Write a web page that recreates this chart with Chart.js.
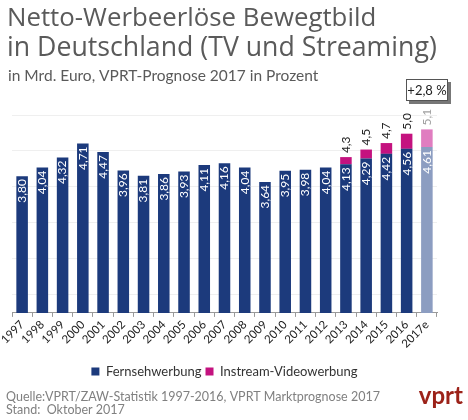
<!DOCTYPE html>
<html>
<head>
<meta charset="utf-8">
<script src="https://cdn.jsdelivr.net/npm/chart.js@4/dist/chart.umd.min.js"></script>
<style>
  html, body { margin: 0; padding: 0; background: #fff; }
  #wrap { width: 468px; height: 420px; position: relative; }
</style>
</head>
<body>
<div id="wrap"><canvas id="chart" width="468" height="420"></canvas></div>
<script>
// Daten (Mrd. Euro)
const years = ['1997', '1998', '1999', '2000', '2001', '2002', '2003', '2004', '2005', '2006',
  '2007', '2008', '2009', '2010', '2011', '2012', '2013', '2014', '2015', '2016', '2017e'];
const fernsehen = [3.80, 4.04, 4.32, 4.71, 4.47, 3.96, 3.81, 3.86, 3.93, 4.11,
  4.16, 4.04, 3.64, 3.95, 3.98, 4.04, 4.13, 4.29, 4.42, 4.56, 4.61];
const instream = [null, null, null, null, null, null, null, null, null, null,
  null, null, null, null, null, null, 0.20, 0.25, 0.30, 0.42, 0.49];
const gridValues = [0.5, 1.5, 2.5, 3.5, 4.5, 5.5];
const prognose = '+2,8 %';

const NAVY = '#1c3a7c';
const MAGENTA = '#c4127f';
const NAVY_E = '#8c9dc1';
const MAGENTA_E = '#e07dc0';
const FONT = 'Lato';
const TITLE_FONT = '"Open Sans"';

const lastIdx = years.length - 1;
const fmt = (v, d) => v.toFixed(d).replace('.', ',');

// Beschriftungen in den Balken und Summen darüber
const labelPlugin = {
  id: 'labels',
  afterDatasetsDraw(chart) {
    const ctx = chart.ctx;
    const metaTV = chart.getDatasetMeta(0);
    const metaIS = chart.getDatasetMeta(1);
    ctx.save();
    ctx.font = '12px ' + FONT;
    ctx.textBaseline = 'middle';
    metaTV.data.forEach((bar, i) => {
      ctx.save();
      ctx.translate(bar.x, bar.y);
      ctx.rotate(-Math.PI / 2);
      ctx.textAlign = 'right';
      ctx.fillStyle = '#fff';
      ctx.fillText(fmt(fernsehen[i], 2), -3, 0);
      ctx.restore();

      if (instream[i] != null) {
        const top = metaIS.data[i].y;
        ctx.save();
        ctx.translate(bar.x, top - 4);
        ctx.rotate(-Math.PI / 2);
        ctx.textAlign = 'left';
        ctx.fillStyle = i === lastIdx ? '#a0a0a0' : '#222';
        ctx.fillText(fmt(fernsehen[i] + instream[i], 1), 0, 0);
        ctx.restore();
      }
    });
    ctx.restore();
  }
};

// Titel, Prognose-Box, Quelle und Logo
const textPlugin = {
  id: 'texts',
  afterDraw(chart) {
    const ctx = chart.ctx;
    ctx.save();
    ctx.fillStyle = '#5a5a5a';
    ctx.textAlign = 'left';
    ctx.textBaseline = 'alphabetic';
    ctx.font = '25.8px ' + TITLE_FONT;
    ctx.fillText('Netto-Werbeerlöse Bewegtbild', 7, 26);
    ctx.font = '26.7px ' + TITLE_FONT;
    ctx.fillText('in Deutschland (TV und Streaming)', 7, 56);
    ctx.font = '15.5px ' + FONT;
    ctx.fillText('in Mrd. Euro, VPRT-Prognose 2017 in Prozent', 8, 81);

    // Prognose-Box
    ctx.fillStyle = '#777';
    ctx.fillRect(409, 82, 42, 22);
    ctx.fillStyle = '#fff';
    ctx.fillRect(406, 79, 42, 22);
    ctx.strokeStyle = '#555';
    ctx.lineWidth = 1;
    ctx.strokeRect(406.5, 79.5, 41, 21);
    ctx.fillStyle = '#222';
    ctx.font = '13px ' + FONT;
    ctx.textAlign = 'center';
    ctx.textBaseline = 'middle';
    ctx.fillText(prognose, 427, 90.5);

    // Quelle
    ctx.textAlign = 'left';
    ctx.textBaseline = 'alphabetic';
    ctx.fillStyle = '#808080';
    ctx.font = '12.5px ' + FONT;
    ctx.fillText('Quelle:VPRT/ZAW-Statistik 1997-2016, VPRT Marktprognose 2017', 6, 401);
    ctx.fillText('Stand:  Oktober 2017', 6, 414);

    // Logo
    ctx.fillStyle = '#9c2219';
    ctx.font = 'bold 24px ' + FONT;
    ctx.textAlign = 'right';
    ctx.fillText('vprt', 463, 404);
    ctx.restore();
  }
};

new Chart(document.getElementById('chart'), {
  type: 'bar',
  data: {
    labels: years,
    datasets: [{
      label: 'Fernsehwerbung',
      data: fernsehen,
      backgroundColor: years.map((y, i) => i === lastIdx ? NAVY_E : NAVY),
      barPercentage: 0.57,
      categoryPercentage: 1
    }, {
      label: 'Instream-Videowerbung',
      data: instream,
      backgroundColor: years.map((y, i) => i === lastIdx ? MAGENTA_E : MAGENTA),
      barPercentage: 0.57,
      categoryPercentage: 1
    }]
  },
  options: {
    responsive: false,
    animation: false,
    layout: { padding: { top: 115, left: 12, right: 31, bottom: 32 } },
    scales: {
      x: {
        stacked: true,
        grid: { display: true, drawOnChartArea: false, drawTicks: true, tickLength: 4, offset: true, color: '#999' },
        border: { color: '#999' },
        ticks: {
          color: '#222',
          font: { family: FONT, size: 11.5 },
          autoSkip: false,
          minRotation: 45,
          maxRotation: 45,
          padding: 1
        }
      },
      y: {
        stacked: true,
        min: 0,
        max: 5.5,
        border: { display: false },
        grid: { color: '#efefef', drawTicks: false },
        ticks: { display: false },
        afterBuildTicks(axis) {
          axis.ticks = gridValues.map(v => ({ value: v }));
        }
      }
    },
    plugins: {
      legend: {
        position: 'bottom',
        // leerer Titel schafft Abstand zur Achse
        title: { display: true, text: '', font: { size: 1 }, padding: { top: 0, bottom: 8 } },
        labels: {
          boxWidth: 8,
          boxHeight: 8,
          padding: 4,
          color: '#333',
          font: { family: FONT, size: 13 }
        }
      },
      tooltip: { enabled: false }
    }
  },
  plugins: [labelPlugin, textPlugin]
});
</script>
</body>
</html>
